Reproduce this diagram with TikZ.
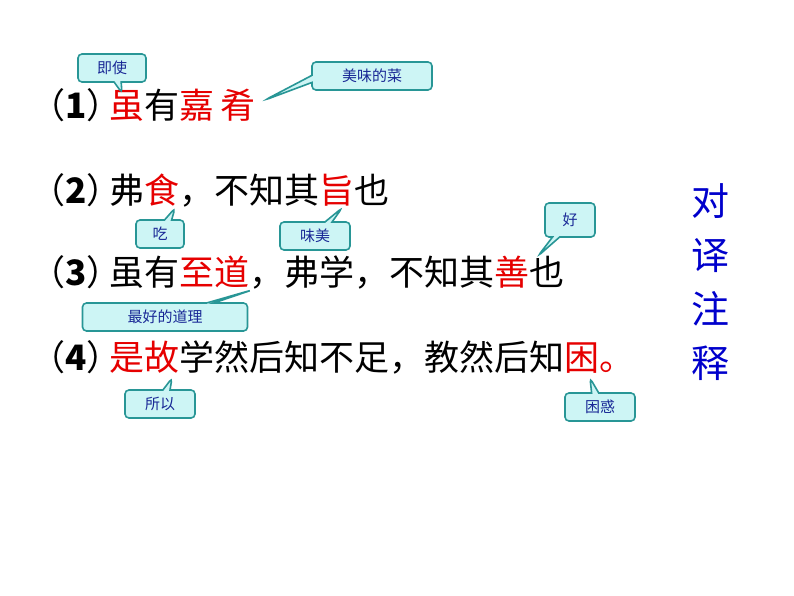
\documentclass[tikz,border=0pt]{standalone}
\usepackage{fontspec}
\setmainfont{Liberation Sans}
\newfontfamily\cjk{Noto Sans CJK SC}
\usetikzlibrary{shapes.callouts}
\definecolor{tealline}{RGB}{40,150,150}
\definecolor{tealfill}{RGB}{205,245,245}
\definecolor{notered}{RGB}{230,0,0}
\definecolor{noteblue}{RGB}{25,40,150}
\newcommand\num[1]{（\textbf{#1}）\hspace{-12pt}}
\tikzset{
  line/.style={anchor=west,inner sep=0pt,font=\fontsize{35}{35}\selectfont\cjk},
  note/.style={rectangle callout,rounded corners=4pt,draw=tealline,line width=1.6pt,
    fill=tealfill,text=noteblue,font=\fontsize{15}{15}\selectfont\cjk,
    minimum height=28pt,inner xsep=6pt},
}
\begin{document}
\begin{tikzpicture}[x=1pt,y=-1pt]
    \useasboundingbox[fill=white] (0,0) rectangle (794,596);
    % sentences
    \node[line] (l1) at (30,105) {\num{1}\textcolor{notered}{虽}有\textcolor{notered}{嘉\,肴}};
    \node[line] (l2) at (30,190) {\num{2}弗\textcolor{notered}{食}，不知其\textcolor{notered}{旨}也};
    \node[line] (l3) at (30,272) {\num{3}虽有\textcolor{notered}{至道}，弗学，不知其\textcolor{notered}{善}也};
    \node[line] (l4) at (30,357) {\num{4}\textcolor{notered}{是故}学然后知不足，教然后知\textcolor{notered}{困。}};
    % pointer ends
    \coordinate (p1) at (122,93);
    \coordinate (p2) at (265,100);
    \coordinate (p3) at (175,208);
    \coordinate (p4) at (342,208);
    \coordinate (p5) at (538,256);
    \coordinate (p6) at (252,290);
    \coordinate (p7) at (172,378);
    \coordinate (p8) at (590,378);
    % notes
    \node[note,minimum width=68pt,callout absolute pointer={(p1)}] (n1) at (112,68) {即使};
    \node[note,minimum width=120pt,callout absolute pointer={(p2)}] (n2) at (372,76) {美味的菜};
    \node[note,minimum width=48pt,callout absolute pointer={(p3)}] (n3) at (160,234) {吃};
    \node[note,minimum width=70pt,callout absolute pointer={(p4)}] (n4) at (315,236) {味美};
    \node[note,minimum width=50pt,minimum height=34pt,callout absolute pointer={(p5)}] (n5) at (570,220) {好};
    \node[note,minimum width=165pt,callout absolute pointer={(p6)}] (n6) at (165,317) {最好的道理};
    \node[note,minimum width=70pt,callout absolute pointer={(p7)}] (n7) at (160,404) {所以};
    \node[note,minimum width=70pt,callout absolute pointer={(p8)}] (n8) at (600,407) {困惑};
    % side title
    \node[text=blue!80!black,font=\fontsize{38}{54}\selectfont\cjk,align=center] (title) at (710,282) {对\\译\\注\\释};
\end{tikzpicture}
\end{document}
